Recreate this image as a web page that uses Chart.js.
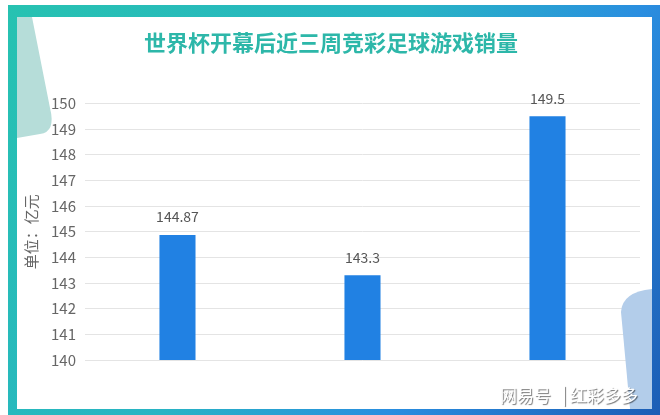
<!DOCTYPE html>
<html>
<head>
<meta charset="utf-8">
<script src="https://cdn.jsdelivr.net/npm/chart.js@4"></script>
<style>
  html, body { margin: 0; padding: 0; background: #fff; }
  #wrap { position: relative; width: 660px; height: 415px; }
</style>
</head>
<body>
<div id="wrap"><canvas id="c" width="660" height="415"></canvas></div>
<script>
const weeks = ['第一周', '第二周', '第三周'];
const sales = [144.87, 143.3, 149.5];
const yTicks = [140, 141, 142, 143, 144, 145, 146, 147, 148, 149, 150];

const FONT = '"Noto Sans CJK SC", "Noto Sans", sans-serif';

// frame + corner decorations behind the chart
const framePlugin = {
  id: 'frame',
  beforeDraw(chart) {
    const ctx = chart.ctx;
    ctx.save();
    const g = ctx.createLinearGradient(8, 5, 660, 415);
    g.addColorStop(0, '#27c2b1');
    g.addColorStop(0.45, '#28b4c4');
    g.addColorStop(0.7, '#2a8ee0');
    g.addColorStop(1, '#1c5db5');
    ctx.fillStyle = g;
    ctx.fillRect(8, 5, 652, 410);
    ctx.fillStyle = '#fff';
    ctx.fillRect(17, 17, 635, 392);
    // light teal wedge top-left
    ctx.fillStyle = '#b6ddd9';
    ctx.beginPath();
    ctx.moveTo(17, 17);
    ctx.lineTo(32, 17);
    ctx.lineTo(50, 108);
    ctx.quadraticCurveTo(56, 132, 40, 134);
    ctx.lineTo(17, 138);
    ctx.closePath();
    ctx.fill();
    ctx.restore();
  },
  afterDraw(chart) {
    const ctx = chart.ctx;
    ctx.save();
    // light blue shape bottom-right
    ctx.fillStyle = '#b3cdea';
    ctx.beginPath();
    ctx.moveTo(652, 289);
    ctx.quadraticCurveTo(622, 292, 621, 312);
    ctx.lineTo(630, 409);
    ctx.lineTo(652, 409);
    ctx.closePath();
    ctx.fill();
    // watermark
    ctx.font = '17px ' + FONT;
    ctx.textBaseline = 'middle';
    ctx.textAlign = 'left';
    ctx.shadowColor = 'rgba(0,0,0,0.55)';
    ctx.shadowOffsetX = 1;
    ctx.shadowOffsetY = 1;
    ctx.shadowBlur = 1;
    ctx.fillStyle = '#ffffff';
    ctx.fillText('网易号', 500, 396);
    ctx.fillText('红彩多多', 570, 396);
    ctx.fillRect(564, 386, 1, 20);
    ctx.restore();
  }
};

const valueLabels = {
  id: 'valueLabels',
  afterDatasetsDraw(chart) {
    const ctx = chart.ctx;
    const meta = chart.getDatasetMeta(0);
    ctx.save();
    ctx.font = '14px ' + FONT;
    ctx.fillStyle = '#555';
    ctx.textAlign = 'center';
    ctx.textBaseline = 'bottom';
    meta.data.forEach((bar, i) => {
      ctx.fillText(String(sales[i]), bar.x, bar.y - 11);
    });
    ctx.restore();
  }
};

new Chart(document.getElementById('c'), {
  type: 'bar',
  data: {
    labels: weeks,
    datasets: [{
      data: sales,
      backgroundColor: '#2181e3',
      barPercentage: 0.78,
      categoryPercentage: 0.25,
    }]
  },
  options: {
    responsive: false,
    animation: false,
    layout: { padding: { left: 22, right: 20, top: 29, bottom: 55 } },
    plugins: {
      legend: { display: false },
      tooltip: { enabled: false },
      title: {
        display: true,
        text: '世界杯开幕后近三周竞彩足球游戏销量',
        color: '#2db7a9',
        font: { family: FONT, size: 22, weight: 'bold' },
        padding: { top: 0, bottom: 48 }
      }
    },
    scales: {
      x: {
        ticks: { display: false },
        grid: { display: false, drawTicks: false },
        border: { display: false }
      },
      y: {
        min: 140,
        max: 150,
        afterBuildTicks: axis => { axis.ticks = yTicks.map(v => ({ value: v })); },
        ticks: { color: '#666', font: { family: FONT, size: 15 }, padding: 9 },
        grid: { color: '#e4e4e4', drawTicks: false },
        border: { display: false },
        title: {
          display: true,
          text: '单位：亿元',
          color: '#666',
          font: { family: FONT, size: 15 },
          padding: { top: 0, bottom: 2 }
        }
      }
    }
  },
  plugins: [framePlugin, valueLabels]
});
</script>
</body>
</html>
